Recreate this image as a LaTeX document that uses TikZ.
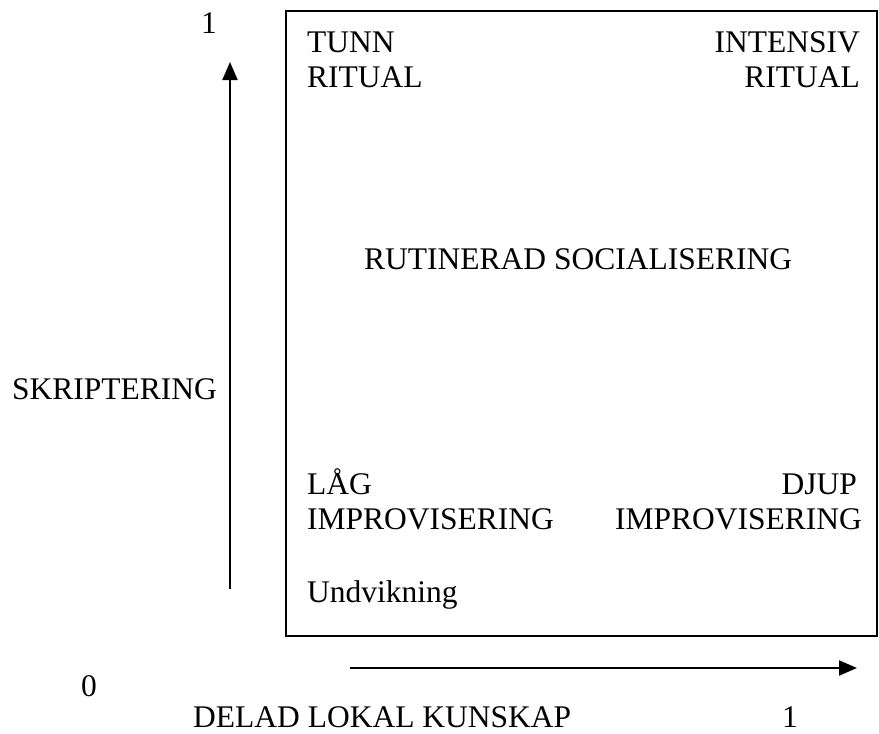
\documentclass[tikz,border=0pt]{standalone}
\usepackage{fontspec}
\setmainfont{Liberation Serif}
\usetikzlibrary{arrows.meta}
\begin{document}
\begin{tikzpicture}[x=1pt,y=-1pt,
  lbl/.style={inner sep=0pt,font=\fontsize{31.5}{36}\selectfont},
  axisarrow/.style={line width=2pt,-{Triangle[length=18pt,width=15pt]}},
  frame/.style={line width=2pt}]
\useasboundingbox (0,0) rectangle (879,734);
\draw[frame] (286,11) rectangle (877,636);
\node[lbl,anchor=base] (one) at (209,33) {1};
\node[lbl,anchor=base west] (tunn) at (307,52) {TUNN};
\node[lbl,anchor=base west] (rit1) at (307,87) {RITUAL};
\node[lbl,anchor=base east] (int) at (860,52) {INTENSIV};
\node[lbl,anchor=base east] (rit2) at (860,87) {RITUAL};
\node[lbl,anchor=base west] (rut) at (364,269) {RUTINERAD SOCIALISERING};
\node[lbl,anchor=base west] (skr) at (12,399) {SKRIPTERING};
\node[lbl,anchor=base west] (lag) at (307,494) {LÅG};
\node[lbl,anchor=base west] (imp1) at (307,529) {IMPROVISERING};
\node[lbl,anchor=base east] (djup) at (857,494) {DJUP};
\node[lbl,anchor=base east] (imp2) at (862,529) {IMPROVISERING};
\node[lbl,anchor=base west] (und) at (307,602) {Undvikning};
\node[lbl,anchor=base] (zero) at (89,696) {0};
\node[lbl,anchor=base west] (delad) at (193,727) {DELAD LOKAL KUNSKAP};
\node[lbl,anchor=base] (onex) at (790,727) {1};
\coordinate (vs) at (230,589);
\coordinate (ve) at (230,62);
\draw[axisarrow] (vs) -- (ve);
\coordinate (hs) at (350,668);
\coordinate (he) at (857,668);
\draw[axisarrow] (hs) -- (he);
\end{tikzpicture}
\end{document}
